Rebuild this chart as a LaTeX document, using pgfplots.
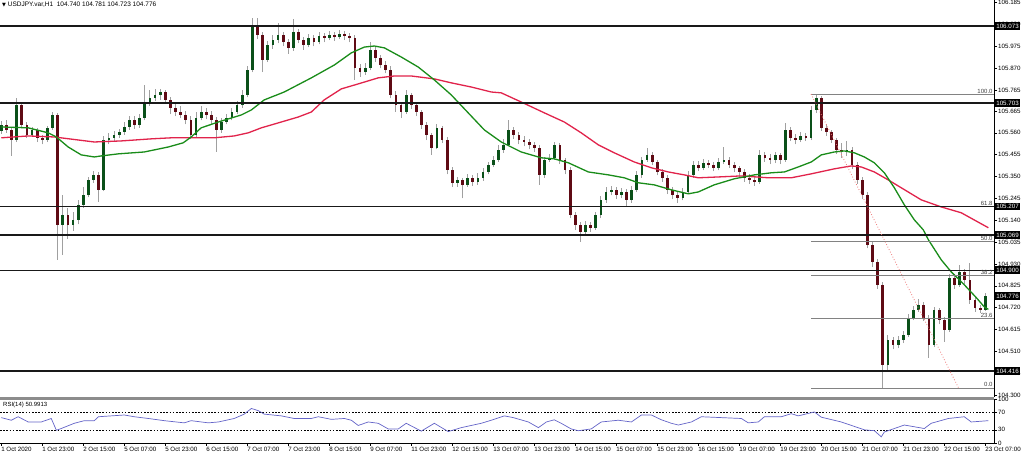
\documentclass[border=0pt]{standalone}
\usepackage{fontspec}
\setmainfont{Liberation Sans}
\newfontfamily\dejavu{DejaVu Sans}
\usepackage{pgfplots}
\usepackage{pgfplotstable}
\pgfplotsset{compat=1.18}

\definecolor{wickgray}{RGB}{160,160,160}
\definecolor{upbody}{RGB}{10,80,25}
\definecolor{downbody}{RGB}{95,10,20}
\definecolor{magreen}{RGB}{25,140,25}
\definecolor{mared}{RGB}{225,35,75}
\definecolor{rsiblue}{RGB}{100,100,200}
\definecolor{levelline}{RGB}{25,25,25}
\definecolor{fibgray}{RGB}{130,130,130}
\definecolor{fibred}{RGB}{240,120,120}

% USDJPY H1, one candle every two hours (x = hour index)
\pgfplotstableread{
x o h l c
0 105.570 105.615 105.555 105.598
2 105.598 105.620 105.560 105.574
4 105.574 105.585 105.450 105.526
6 105.526 105.728 105.515 105.694
8 105.694 105.700 105.585 105.598
10 105.598 105.610 105.535 105.550
12 105.550 105.590 105.540 105.574
14 105.574 105.585 105.515 105.536
16 105.536 105.550 105.505 105.526
18 105.526 105.595 105.515 105.584
20 105.584 105.660 105.575 105.646
22 105.646 105.655 104.950 105.118
24 105.118 105.260 104.975 105.166
26 105.166 105.200 105.050 105.118
28 105.118 105.180 105.090 105.142
30 105.142 105.235 105.120 105.214
32 105.214 105.300 105.200 105.262
34 105.262 105.350 105.250 105.334
36 105.334 105.375 105.320 105.358
38 105.358 105.370 105.228 105.286
40 105.286 105.545 105.280 105.526
42 105.526 105.560 105.505 105.536
44 105.536 105.570 105.520 105.550
46 105.550 105.580 105.535 105.564
48 105.564 105.610 105.550 105.588
50 105.588 105.640 105.575 105.622
52 105.622 105.640 105.580 105.598
54 105.598 105.650 105.585 105.632
56 105.632 105.790 105.620 105.704
58 105.704 105.765 105.690 105.728
60 105.728 105.770 105.715 105.742
62 105.742 105.770 105.720 105.756
64 105.756 105.765 105.700 105.718
66 105.718 105.730 105.650 105.680
68 105.680 105.700 105.640 105.660
70 105.660 105.690 105.630 105.646
72 105.646 105.665 105.600 105.622
74 105.622 105.640 105.530 105.550
76 105.550 105.660 105.540 105.632
78 105.632 105.690 105.620 105.660
80 105.660 105.680 105.625 105.646
82 105.646 105.665 105.600 105.622
84 105.622 105.635 105.468 105.574
86 105.574 105.630 105.560 105.612
88 105.612 105.650 105.600 105.632
90 105.632 105.680 105.620 105.660
92 105.660 105.715 105.650 105.694
94 105.694 105.765 105.680 105.742
96 105.742 105.880 105.730 105.862
98 105.862 106.112 105.850 106.078
100 106.078 106.110 106.010 106.030
102 106.030 106.045 105.852 105.910
104 105.910 106.000 105.900 105.982
106 105.982 106.030 105.965 106.006
108 106.006 106.088 105.990 106.030
110 106.030 106.045 105.975 105.996
112 105.996 106.010 105.940 105.968
114 105.968 106.107 105.955 106.044
116 106.044 106.060 105.990 106.006
118 106.006 106.020 105.960 105.982
120 105.982 106.035 105.970 106.016
122 106.016 106.030 105.975 105.996
124 105.996 106.045 105.985 106.025
126 106.025 106.040 105.995 106.016
128 106.016 106.050 106.005 106.030
130 106.030 106.045 106.000 106.020
132 106.020 106.055 106.010 106.035
134 106.035 106.050 106.005 106.025
136 106.025 106.040 105.995 106.016
138 106.016 106.030 105.815 105.872
140 105.872 105.890 105.830 105.852
142 105.852 105.895 105.840 105.872
144 105.872 105.995 105.860 105.958
146 105.958 105.970 105.900 105.920
148 105.920 105.935 105.870 105.886
150 105.886 105.905 105.845 105.862
152 105.862 105.880 105.725 105.742
154 105.742 105.760 105.660 105.694
156 105.694 105.710 105.630 105.660
158 105.660 105.765 105.650 105.742
160 105.742 105.750 105.675 105.694
162 105.694 105.705 105.640 105.660
164 105.660 105.670 105.580 105.598
166 105.598 105.610 105.525 105.550
168 105.550 105.560 105.455 105.488
170 105.488 105.600 105.480 105.584
172 105.584 105.595 105.510 105.526
174 105.526 105.540 105.360 105.382
176 105.382 105.395 105.300 105.320
178 105.320 105.350 105.300 105.334
180 105.334 105.345 105.245 105.310
182 105.310 105.360 105.300 105.344
184 105.344 105.355 105.305 105.324
186 105.324 105.365 105.310 105.344
188 105.344 105.390 105.330 105.372
190 105.372 105.420 105.360 105.406
192 105.406 105.450 105.395 105.430
194 105.430 105.500 105.420 105.478
196 105.478 105.530 105.465 105.502
198 105.502 105.622 105.495 105.574
200 105.574 105.590 105.530 105.550
202 105.550 105.565 105.505 105.526
204 105.526 105.545 105.495 105.516
206 105.516 105.530 105.480 105.502
208 105.502 105.515 105.470 105.488
210 105.488 105.500 105.310 105.358
212 105.358 105.445 105.345 105.430
214 105.430 105.460 105.420 105.440
216 105.440 105.515 105.430 105.502
218 105.502 105.510 105.410 105.430
220 105.430 105.440 105.360 105.382
222 105.382 105.395 105.150 105.166
224 105.166 105.180 105.095 105.118
226 105.118 105.130 105.036 105.084
228 105.084 105.135 105.070 105.118
230 105.118 105.130 105.085 105.104
232 105.104 105.180 105.095 105.166
234 105.166 105.255 105.150 105.238
236 105.238 105.300 105.225 105.276
238 105.276 105.305 105.260 105.286
240 105.286 105.300 105.240 105.262
242 105.262 105.295 105.245 105.276
244 105.276 105.290 105.210 105.238
246 105.238 105.305 105.225 105.286
248 105.286 105.375 105.275 105.358
250 105.358 105.445 105.345 105.430
252 105.430 105.487 105.420 105.454
254 105.454 105.470 105.405 105.420
256 105.420 105.430 105.355 105.372
258 105.372 105.385 105.325 105.344
260 105.344 105.355 105.265 105.286
262 105.286 105.300 105.240 105.262
264 105.262 105.280 105.225 105.248
266 105.248 105.295 105.235 105.276
268 105.276 105.375 105.265 105.358
270 105.358 105.425 105.345 105.406
272 105.406 105.425 105.375 105.392
274 105.392 105.435 105.380 105.416
276 105.416 105.430 105.390 105.406
278 105.406 105.420 105.375 105.392
280 105.392 105.440 105.380 105.420
282 105.420 105.492 105.410 105.430
284 105.430 105.445 105.390 105.406
286 105.406 105.420 105.370 105.392
288 105.392 105.400 105.350 105.372
290 105.372 105.385 105.325 105.344
292 105.344 105.360 105.315 105.334
294 105.334 105.350 105.305 105.324
296 105.324 105.478 105.315 105.454
298 105.454 105.470 105.420 105.440
300 105.440 105.460 105.410 105.430
302 105.430 105.470 105.415 105.454
304 105.454 105.465 105.410 105.430
306 105.430 105.608 105.420 105.574
308 105.574 105.590 105.520 105.536
310 105.536 105.555 105.505 105.526
312 105.526 105.565 105.515 105.545
314 105.545 105.560 105.520 105.536
316 105.536 105.690 105.525 105.670
318 105.670 105.746 105.655 105.728
320 105.728 105.735 105.570 105.584
322 105.584 105.600 105.545 105.564
324 105.564 105.575 105.510 105.526
326 105.526 105.535 105.460 105.478
328 105.478 105.510 105.440 105.468
330 105.468 105.520 105.450 105.478
332 105.478 105.490 105.385 105.406
334 105.406 105.420 105.315 105.334
336 105.334 105.350 105.240 105.262
338 105.262 105.275 105.005 105.022
340 105.022 105.035 104.915 104.940
342 104.940 104.955 104.810 104.830
344 104.830 104.845 104.334 104.446
346 104.446 104.590 104.420 104.566
348 104.566 104.580 104.520 104.542
350 104.542 104.585 104.525 104.566
352 104.566 104.610 104.550 104.590
354 104.590 104.690 104.580 104.672
356 104.672 104.730 104.660 104.710
358 104.710 104.760 104.700 104.734
360 104.734 104.745 104.655 104.672
362 104.672 104.685 104.480 104.542
364 104.542 104.725 104.530 104.710
366 104.710 104.720 104.640 104.662
368 104.662 104.675 104.556 104.614
370 104.614 104.880 104.605 104.864
372 104.864 104.880 104.810 104.830
374 104.830 104.926 104.820 104.892
376 104.892 104.905 104.835 104.854
378 104.854 104.935 104.740 104.758
380 104.758 104.770 104.700 104.720
382 104.720 104.735 104.695 104.710
384 104.710 104.790 104.705 104.776
}\candles

% moving averages
\pgfplotstableread{
x y
0 105.588
10.5 105.584
18.3 105.560
21.5 105.540
26.1 105.492
31.2 105.454
36.3 105.444
39.0 105.449
45.7 105.459
55.8 105.468
65.2 105.492
71.0 105.512
74.1 105.540
78.0 105.584
84.7 105.612
93.7 105.646
97.6 105.670
102.6 105.718
110.4 105.756
121.0 105.824
130.0 105.886
136.6 105.944
141.7 105.972
145.6 105.977
149.5 105.968
156.1 105.924
162.7 105.876
169.0 105.814
175.6 105.742
182.2 105.656
188.5 105.574
195.1 105.516
202.9 105.468
210.7 105.440
215.8 105.435
221.3 105.416
229.1 105.372
236.9 105.358
243.1 105.344
248.6 105.320
254.8 105.310
261.5 105.286
268.1 105.267
272.0 105.276
278.2 105.310
286.0 105.339
293.9 105.358
300.5 105.368
305.6 105.372
311.0 105.396
316.1 105.420
320.0 105.454
325.1 105.468
329.0 105.473
332.9 105.464
336.8 105.444
340.7 105.416
344.6 105.368
348.5 105.296
352.4 105.214
356.3 105.142
359.8 105.094
361.8 105.046
366.8 104.950
370.7 104.892
375.8 104.830
380.5 104.768
383.6 104.724
385.2 104.712
}\magreentab

\pgfplotstableread{
x y
0 105.536
10.5 105.545
20.7 105.540
36.3 105.516
46.8 105.521
58.5 105.531
66.3 105.536
74.1 105.536
83.1 105.536
90.9 105.545
96.4 105.560
101.5 105.584
105.4 105.598
115.9 105.636
121.0 105.660
126.0 105.718
132.7 105.771
139.3 105.795
147.1 105.824
153.4 105.833
160.0 105.833
169.0 105.819
175.6 105.800
183.4 105.780
191.2 105.756
195.1 105.752
202.9 105.708
211.9 105.656
219.7 105.612
226.3 105.560
233.0 105.502
239.2 105.464
247.0 105.420
253.7 105.392
260.3 105.372
266.5 105.358
272.0 105.344
279.8 105.348
288.8 105.353
299.3 105.344
308.3 105.344
316.1 105.363
325.1 105.387
331.7 105.401
335.6 105.396
340.7 105.372
346.1 105.334
351.2 105.296
359.0 105.238
366.8 105.204
374.6 105.176
385.2 105.104
}\maredtab

\pgfplotstableread{
x y
0 58
3.9 52
6.6 60
10.5 48
15.6 48
19.5 56
21.5 29
23.4 33
28.5 45
32.4 51
36.3 51
37.9 60
42.9 62
48.0 64
51.9 60
57.4 56
63.6 51
71.4 46
74.1 51
80.8 46
84.7 48
90.9 56
94.8 66
97.6 79
100.3 74
102.6 66
109.3 62
114.3 56
121.0 56
123.7 60
128.8 54
133.9 56
136.6 52
139.3 40
143.2 48
147.1 45
151.0 32
154.9 32
158.0 45
163.9 27
169.0 45
174.4 26
179.5 35
187.3 45
191.2 52
196.3 62
199.8 58
205.7 48
209.6 35
212.7 48
215.8 53
218.5 45
222.4 32
225.2 28
230.2 32
234.1 48
240.8 52
245.9 48
249.8 64
253.7 64
257.6 53
261.5 45
264.2 41
269.3 48
273.2 60
281.0 58
288.8 56
291.5 46
295.4 48
297.8 60
304.4 60
308.3 67
311.0 62
317.3 71
320.0 59
327.8 48
336.8 30
340.7 28
343.4 14
344.6 25
352.4 41
360.2 33
362.9 45
369.6 56
375.8 60
378.5 48
385.2 51
}\rsitab

\begin{document}
\begin{tikzpicture}
\useasboundingbox (0pt,0pt) rectangle (1024pt,-454pt);
\fill[white] (0pt,0pt) rectangle (1024pt,-454pt);

% price panel
\begin{axis}[
  at={(0pt,0pt)}, anchor=north west,
  width=994pt, height=397pt, scale only axis,
  xmin=-0.5, xmax=387.4,
  ymin=104.291, ymax=106.198,
  clip=false,
  axis x line=none,
  axis y line*=right,
  y axis line style={black, line width=0.6pt},
  ytick={106.185,106.080,105.975,105.870,105.765,105.665,105.560,105.455,105.350,105.245,105.140,105.035,104.930,104.825,104.720,104.615,104.510,104.405,104.300},
  tick align=outside, major tick length=3pt,
  tick style={black, line width=0.5pt},
  yticklabel style={font=\fontsize{6.2}{7}\selectfont, inner sep=1pt,
    /pgf/number format/.cd, fixed, fixed zerofill, precision=3, assume math mode=true},
]
% wicks
\addplot[draw=none, mark=none, forget plot,
  error bars/.cd, y dir=plus, y explicit, error mark=none,
  error bar style={draw=wickgray, line width=1pt}]
  table[x=x, y=l, y error plus expr=\thisrow{h}-\thisrow{l}] {\candles};
% up bodies
\addplot[draw=none, mark=none, forget plot,
  restrict x to domain=-5:400,
  error bars/.cd, y dir=plus, y explicit, error mark=none,
  error bar style={draw=upbody, line width=2.7pt}]
  table[x expr={\thisrow{c}>=\thisrow{o} ? \thisrow{x} : -100},
        y expr={min(\thisrow{o},\thisrow{c})},
        y error plus expr={max(abs(\thisrow{c}-\thisrow{o}),0.003)}] {\candles};
% down bodies
\addplot[draw=none, mark=none, forget plot,
  restrict x to domain=-5:400,
  error bars/.cd, y dir=plus, y explicit, error mark=none,
  error bar style={draw=downbody, line width=2.7pt}]
  table[x expr={\thisrow{c}<\thisrow{o} ? \thisrow{x} : -100},
        y expr={min(\thisrow{o},\thisrow{c})},
        y error plus expr={max(abs(\thisrow{c}-\thisrow{o}),0.003)}] {\candles};

% moving averages
\addplot[mared, line width=1.3pt, mark=none] table {\maredtab};
\addplot[magreen, line width=1.3pt, mark=none] table {\magreentab};

% support / resistance levels
\foreach \lv in {106.073,105.703,105.207,105.069,104.900,104.416}{
  \edef\tmp{\noexpand\addplot[levelline, line width=1.4pt, mark=none, forget plot]
    coordinates {(-0.5,\lv) (387.4,\lv)};}\tmp
}

% fibonacci retracement
\foreach \lv in {105.746,105.040,104.873,104.667,104.334}{
  \edef\tmp{\noexpand\addplot[fibgray, line width=0.7pt, mark=none, forget plot]
    coordinates {(316,\lv) (387.4,\lv)};}\tmp
}
\addplot[fibred, line width=0.8pt, dotted, mark=none] coordinates {(316,105.746) (373.5,104.336)};

\foreach \lv/\txt in {105.746/100.0,105.207/61.8,105.040/50.0,104.873/38.2,104.667/23.6,104.334/0.0}{
  \edef\tmp{\noexpand\node[anchor=south east, inner sep=0.8pt, text=black!75,
    font=\noexpand\fontsize{6}{6}\noexpand\selectfont] at (axis cs:387.2,\lv) {\txt};}\tmp
}

% price tags on the scale
\foreach \lv in {106.073,105.703,105.207,105.069,104.900,104.776,104.416}{
  \edef\tmp{\noexpand\node[anchor=west, fill=black, text=white, inner xsep=1.6pt, inner ysep=1.6pt,
    font=\noexpand\fontsize{6.2}{7}\noexpand\selectfont] at (axis cs:387.6,\lv) {\lv};}\tmp
}
\end{axis}

% separator between panels
\fill[black!45] (0pt,-397pt) rectangle (994pt,-399.5pt);

% RSI panel
\begin{axis}[
  at={(0pt,-399.3pt)}, anchor=north west,
  width=994pt, height=43.6pt, scale only axis,
  xmin=-0.5, xmax=387.4,
  ymin=0, ymax=100,
  axis x line*=bottom, axis y line*=right,
  axis line style={black, line width=0.6pt},
  ytick={0,30,70,100},
  xtick={0,16,...,384},
  xticklabels={1 Oct 2020,1 Oct 23:00,2 Oct 15:00,5 Oct 07:00,5 Oct 23:00,6 Oct 15:00,7 Oct 07:00,7 Oct 23:00,8 Oct 15:00,9 Oct 07:00,11 Oct 23:00,12 Oct 15:00,13 Oct 07:00,13 Oct 23:00,14 Oct 15:00,15 Oct 07:00,15 Oct 23:00,16 Oct 15:00,19 Oct 07:00,19 Oct 23:00,20 Oct 15:00,21 Oct 07:00,21 Oct 23:00,22 Oct 15:00,23 Oct 07:00},
  tick align=outside, major tick length=3pt,
  tick style={black, line width=0.5pt},
  xticklabel style={font=\fontsize{6.2}{7}\selectfont, anchor=north west, inner sep=0.8pt, xshift=-1pt},
  yticklabel style={font=\fontsize{6.2}{7}\selectfont, inner sep=1pt, /pgf/number format/assume math mode=true},
]
\addplot[black, line width=0.5pt, dash pattern=on 1.6pt off 1.6pt, mark=none, forget plot] coordinates {(-0.5,70) (387.4,70)};
\addplot[black, line width=0.5pt, dash pattern=on 1.6pt off 1.6pt, mark=none, forget plot] coordinates {(-0.5,30) (387.4,30)};
\addplot[rsiblue, line width=0.7pt, mark=none] table {\rsitab};
\node[anchor=north west, inner sep=0pt, font=\fontsize{6}{7}\selectfont] at (axis description cs:0.003,0.95) {RSI(14) 50.9913};
\end{axis}

% header
\node[anchor=north west, inner sep=0pt, font=\fontsize{6.5}{7}\selectfont] at (2pt,-1.5pt)
  {{\dejavu\fontsize{5}{6}\selectfont ▼}\ USDJPY.var,H1\ \ 104.740 104.781 104.723 104.776};
\end{tikzpicture}
\end{document}
